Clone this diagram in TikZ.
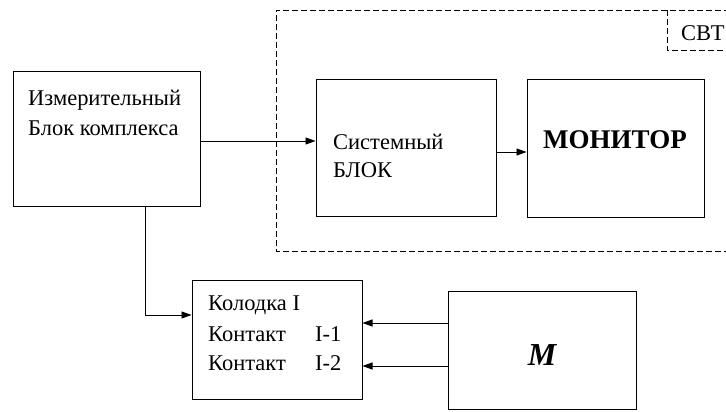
\documentclass[tikz,border=0pt]{standalone}
\usepackage{fontspec}
\setmainfont{Liberation Serif}
\usetikzlibrary{arrows.meta}
\begin{document}
\begin{tikzpicture}[x=1pt,y=-1pt,
  box/.style={draw,line width=1pt,inner sep=0pt},
  arr/.style={line width=0.9pt,-{Triangle[length=10pt,width=7pt]}},
  dsh/.style={line width=0.9pt,dash pattern=on 6pt off 3pt},
  txt/.style={font=\fontsize{22.5}{26}\selectfont,inner sep=0pt,anchor=west}]
\useasboundingbox (0,0) rectangle (726,412);
\fill[white] (0,0) rectangle (726,412);
% dashed frame
\draw[dsh] (730,10) -- (276,10) -- (276,251) -- (730,251);
\draw[dsh] (667,10) -- (667,50) -- (730,50);
\node[txt] (svt) at (681,33) {СВТ};
% boxes
\node[box,minimum width=187pt,minimum height=134pt] (meas) at (106.5,139) {};
\node[box,minimum width=180pt,minimum height=136pt] (sys) at (406,148) {};
\node[box,minimum width=177pt,minimum height=137pt] (mon) at (615.5,148.5) {};
\node[box,minimum width=170pt,minimum height=119pt] (kol) at (277,339.5) {};
\node[box,minimum width=188pt,minimum height=118pt] (mm) at (542,350) {};
% texts
\node[txt] (t1) at (28,100) {Измерительный};
\node[txt] (t2) at (28,128) {Блок комплекса};
\node[txt] (t3) at (333,142) {Системный};
\node[txt] (t4) at (333,170) {БЛОК};
\node[font=\fontsize{27}{31}\selectfont\bfseries,inner sep=0pt] (t5) at (615,140) {МОНИТОР};
\node[font=\fontsize{32}{36}\selectfont\bfseries\itshape,inner sep=0pt] (t6) at (542,355) {M};
\node[txt] (k1) at (208,305) {Колодка I};
\node[txt] (k2) at (208,334) {Контакт};
\node[txt] (k3) at (208,363) {Контакт};
\node[txt] (k4) at (315,334) {I-1};
\node[txt] (k5) at (315,363) {I-2};
% connectors
\draw[arr] ([yshift=-2pt]meas.east) -- ([yshift=-2pt]meas.east -| sys.west);
\draw[arr] ([yshift=-4pt]sys.east) -- ([yshift=-4pt]sys.east -| mon.west);
\draw[arr] ([xshift=38.5pt]meas.south) |- ([yshift=24.5pt]kol.west);
\draw[arr] ([yshift=27pt]mm.west) -- ([yshift=27pt]mm.west -| kol.east);
\draw[arr] ([yshift=-16pt]mm.west) -- ([yshift=-16pt]mm.west -| kol.east);
\end{tikzpicture}
\end{document}
